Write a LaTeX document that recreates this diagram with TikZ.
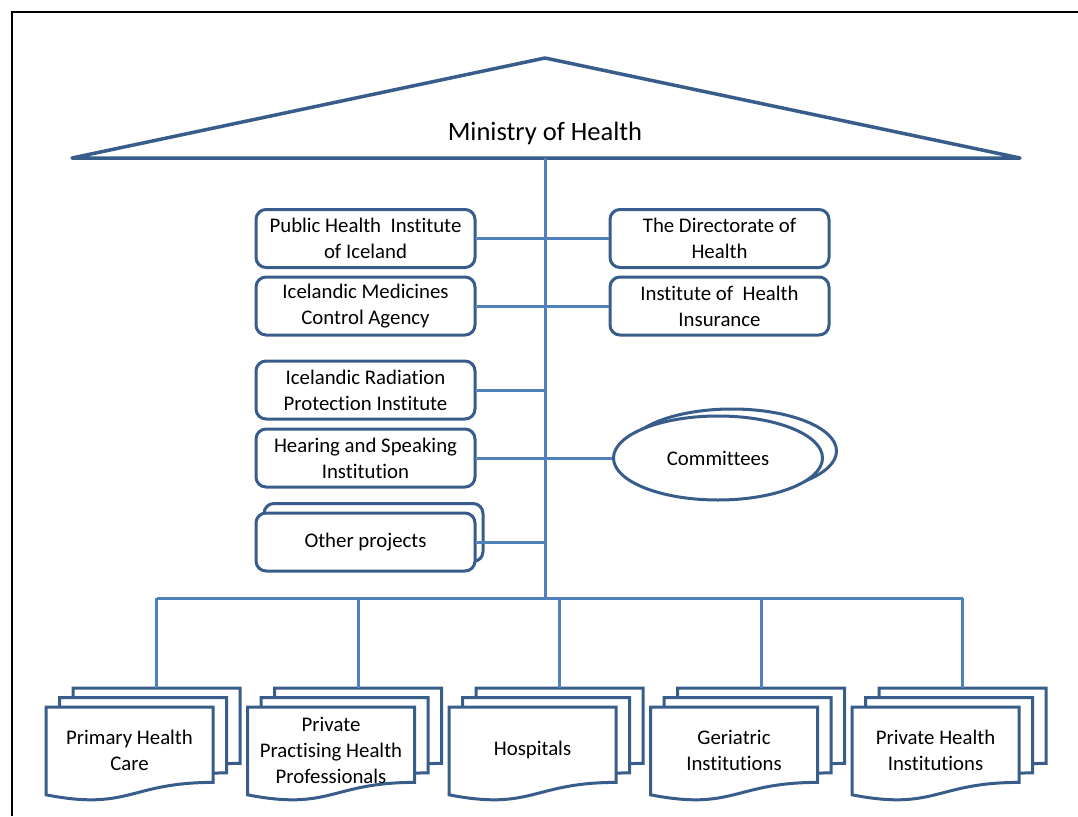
\documentclass[tikz,border=0pt]{standalone}
\usepackage{fontspec}
\setmainfont{Carlito}[Ligatures=NoCommon]
\usetikzlibrary{shapes.geometric}
\definecolor{boxblue}{RGB}{56,93,138}
\definecolor{lineblue}{RGB}{79,129,189}
\tikzset{
  orgbox/.style={draw=boxblue, line width=3pt, rounded corners=10pt, fill=white,
    minimum width=219pt, minimum height=58pt, inner sep=0pt, align=center,
    font=\fontsize{20.8}{26}\selectfont},
  conn/.style={draw=lineblue, line width=3pt},
  docline/.style={draw=boxblue, line width=3pt, fill=white, line join=miter},
  doctext/.style={inner sep=0pt, align=center, font=\fontsize{20.8}{26}\selectfont},
  comell/.style={draw=boxblue, line width=3pt, fill=white, ellipse,
    minimum width=209pt, minimum height=84pt, inner sep=0pt,
    font=\fontsize{20.8}{26}\selectfont}
}
\newcommand\mdoc[3]{%
  \foreach \dx/\dy in {27/-19,13.5/-9.5,0/0}{%
    \pgfmathsetmacro\xa{#1+\dx}\pgfmathsetmacro\xb{#1+\dx+167}\pgfmathsetmacro\xm{#1+\dx+83.5}%
    \pgfmathsetmacro\ya{707+\dy}\pgfmathsetmacro\yr{782.4+\dy}\pgfmathsetmacro\yc{811.1+\dy}\pgfmathsetmacro\yl{794.8+\dy}%
    \draw[docline] (\xa,\ya) -- (\xb,\ya) -- (\xb,\yr) .. controls (\xm,\yr) and (\xm,\yc) .. (\xa,\yl) -- cycle;
  }%
  \node[doctext] (#2) at ({#1+83.5},750) {#3};
  \coordinate (#2top) at ({#1+110.5},688);
}
\begin{document}
\begin{tikzpicture}[x=1pt,y=-1pt]
\useasboundingbox (0,0) rectangle (1078,816);
% frame
\draw[line width=2pt] (12,816) -- (12,12) -- (1078,12);
% roof
\draw[draw=boxblue, line width=3.5pt, line join=round] (72,158) -- (545,58) -- (1020,158) -- cycle;
\node[inner sep=0pt, font=\fontsize{26.5}{30}\selectfont] (moh) at (545,133) {Ministry of Health};
\coordinate (trunktop) at (545,158);
\coordinate (busl) at (156.5,598);
\coordinate (busr) at (962.5,598);
\coordinate (trunkbot) at (545,598);
% boxes
\node[orgbox] (pub) at (365.5,238.5) {Public Health\ \ Institute\\of Iceland};
\node[orgbox] (med) at (365.5,306) {Icelandic Medicines\\Control Agency};
\node[orgbox] (rad) at (365.5,390) {Icelandic Radiation\\Protection Institute};
\node[orgbox] (hear) at (365.5,458) {Hearing and Speaking\\Institution};
\node[orgbox] (othb) at (373.5,532.5) {};
\node[orgbox] (oth) at (365.5,542) {Other projects};
\node[orgbox] (dir) at (719.5,238.5) {The Directorate of\\Health};
\node[orgbox] (ins) at (719.5,306) {Institute of\ \ Health\\Insurance};
\node[comell] (comb) at (732,451) {};
\node[comell] (com) at (718,458) {Committees};
% connectors
\draw[conn] (trunktop) -- (trunkbot);
\draw[conn] (pub.east) -- (dir.west);
\draw[conn] (med.east) -- (ins.west);
\draw[conn] (rad.east) -- (rad.east -| trunktop);
\draw[conn] (hear.east) -- (com.west);
\draw[conn] (oth.east) -- (oth.east -| trunktop);
\draw[conn] (busl) -- (busr);
% documents
\mdoc{46}{d1}{Primary Health\\Care}
\mdoc{247.5}{d2}{Private\\Practising Health\\Professionals}
\mdoc{449}{d3}{Hospitals}
\mdoc{650.5}{d4}{Geriatric\\Institutions}
\mdoc{852}{d5}{Private Health\\Institutions}
\foreach \n in {d1,d2,d3,d4,d5}{\draw[conn] (\n top |- busl) -- (\n top);}
\end{tikzpicture}
\end{document}
